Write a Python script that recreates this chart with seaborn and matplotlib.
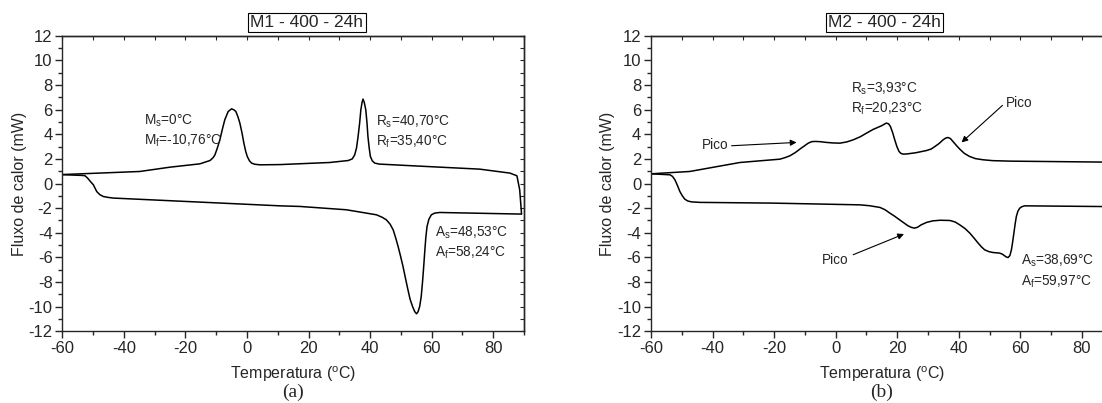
import matplotlib
matplotlib.use("Agg")
import matplotlib.pyplot as plt
from matplotlib.ticker import MultipleLocator
import seaborn as sns
import pandas as pd

# DSC curves: temperature (°C) and heat flow (mW)
m1_cool_T = [-60.0, -34.8, -25.0, -15.3, -12.0, -11.0, -10.4, -9.6, -8.8, -8.0, -7.2, -6.1, -5.0,
             -4.2, -3.6, -2.9, -2.3, -1.6, -1.0, -0.4, 0.1, 0.8, 1.5, 2.5, 4.2, 10.7, 26.9,
             32.9, 34.2, 35.0, 35.6, 36.1, 36.6, 37.0, 37.4, 37.7, 38.1, 38.6, 39.0, 39.3, 39.7,
             40.1, 40.7, 41.5, 43.0, 54.0, 75.6, 85.4, 87.7, 88.6, 89.2]
m1_cool_F = [0.73, 0.98, 1.33, 1.60, 1.87, 2.10, 2.33, 2.90, 3.55, 4.40, 5.18, 5.85, 6.07,
             5.98, 5.85, 5.40, 4.90, 4.10, 3.28, 2.60, 2.20, 1.85, 1.66, 1.57, 1.52, 1.54, 1.71,
             1.87, 2.00, 2.33, 2.90, 3.82, 4.90, 5.99, 6.60, 6.86, 6.60, 5.99, 4.90, 3.82, 2.90,
             2.20, 1.85, 1.66, 1.58, 1.44, 1.17, 0.85, 0.63, -0.51, -2.46]
m1_heat_T = [-60.0, -53.5, -52.6, -51.8, -50.8, -49.9, -48.8, -47.8, -46.7, -45.0, -43.4, 10.7,
             17.2, 32.3, 42.1, 44.0, 45.3, 46.5, 47.5, 48.3, 49.1, 49.9, 50.7, 51.5, 52.3, 53.0,
             53.8, 54.5, 55.1, 55.6, 56.1, 56.6, 57.0, 57.4, 57.8, 58.1, 58.5, 59.1, 59.9, 61.0,
             62.6, 89.2]
m1_heat_F = [0.72, 0.66, 0.63, 0.45, 0.15, -0.10, -0.65, -0.90, -1.05, -1.13, -1.18, -1.81,
             -1.86, -2.13, -2.54, -2.75, -2.95, -3.30, -3.76, -4.40, -5.11, -5.90, -6.74, -7.70, -8.63, -9.40,
             -9.99, -10.40, -10.58, -10.40, -9.99, -9.20, -8.10, -6.80, -5.38, -4.40, -3.49, -2.90, -2.54, -2.40,
             -2.35, -2.48]

m2_cool_T = [-60.0, -47.4, -31.1, -18.1, -16.5, -14.9, -13.2, -11.6, -10.2, -8.9, -7.8, -6.7, -5.0,
             -3.0, -1.0, 1.4, 3.6, 5.7, 8.0, 10.0, 12.2, 13.6, 14.9, 15.8, 16.5, 17.2, 17.8,
             18.5, 19.2, 19.9, 20.6, 21.2, 21.9, 23.0, 26.0, 29.5, 31.0, 32.2, 33.6, 34.9, 35.8,
             36.5, 37.3, 38.1, 39.2, 40.3, 41.8, 43.5, 45.5, 47.9, 51.0, 56.6, 88.0]
m2_cool_F = [0.79, 0.98, 1.71, 1.98, 2.10, 2.25, 2.50, 2.80, 3.05, 3.28, 3.40, 3.42, 3.40,
             3.34, 3.30, 3.28, 3.38, 3.55, 3.80, 4.09, 4.40, 4.55, 4.69, 4.82, 4.91, 4.85, 4.63,
             4.15, 3.55, 3.00, 2.60, 2.45, 2.39, 2.40, 2.50, 2.68, 2.80, 3.00, 3.25, 3.55, 3.70,
             3.74, 3.65, 3.42, 3.10, 2.80, 2.45, 2.20, 2.02, 1.93, 1.86, 1.82, 1.74]
m2_heat_T = [-60.0, -53.8, -53.0, -52.2, -51.4, -50.6, -49.8, -49.0, -48.0, -46.8, -44.0, -20.3,
             7.9, 11.0, 14.4, 16.0, 17.6, 19.2, 20.8, 22.2, 23.5, 24.6, 25.6, 26.6, 27.8, 29.6,
             31.6, 34.0, 37.1, 38.8, 40.3, 42.0, 43.6, 45.0, 46.3, 47.4, 48.4, 49.8, 51.1, 53.3,
             54.2, 54.9, 55.5, 56.0, 56.6, 57.1, 57.5, 57.9, 58.3, 58.7, 59.2, 59.8, 60.5, 61.4, 88.0]
m2_heat_F = [0.79, 0.71, 0.58, 0.30, -0.15, -0.65, -1.00, -1.27, -1.42, -1.49, -1.53, -1.59,
             -1.73, -1.80, -1.94, -2.12, -2.40, -2.66, -2.95, -3.20, -3.43, -3.56, -3.62, -3.55, -3.35, -3.15,
             -3.03, -2.98, -3.00, -3.12, -3.35, -3.65, -4.03, -4.44, -4.84, -5.15, -5.38, -5.53, -5.60, -5.65,
             -5.74, -5.87, -5.97, -6.01, -5.85, -5.38, -4.75, -4.03, -3.30, -2.68, -2.25, -2.00, -1.88, -1.81, -1.87]

titles = ["M1 - 400 - 24h", "M2 - 400 - 24h"]
panel_tags = ["(a)", "(b)"]
x_label = "Temperatura ($^{\\mathrm{o}}$C)"
y_label = "Fluxo de calor (mW)"

m1_notes = [(-33.5, 5.1, "M$_\\mathrm{s}$=0°C"), (-33.5, 3.5, "M$_\\mathrm{f}$=-10,76°C"),
            (41.8, 5.0, "R$_\\mathrm{s}$=40,70°C"), (41.8, 3.4, "R$_\\mathrm{f}$=35,40°C"),
            (61.0, -4.0, "A$_\\mathrm{s}$=48,53°C"), (61.0, -5.6, "A$_\\mathrm{f}$=58,24°C")]
m2_notes = [(5.0, 7.66, "R$_\\mathrm{s}$=3,93°C"), (5.0, 6.03, "R$_\\mathrm{f}$=20,23°C"),
            (60.3, -6.3, "A$_\\mathrm{s}$=38,69°C"), (60.3, -7.95, "A$_\\mathrm{f}$=59,97°C"),
            (-43.6, 3.15, "Pico"), (55.4, 6.55, "Pico"), (-4.6, -6.18, "Pico")]
# arrows: (tail T, tail F, head T, head F)
m2_arrows = [(-33.8, 3.07, -12.7, 3.34), (54.2, 6.35, 40.9, 3.34), (5.7, -5.78, 22.2, -4.10)]

sns.set_style("ticks")
plt.rcParams["font.family"] = ["Liberation Sans", "DejaVu Sans"]
plt.rcParams["mathtext.fontset"] = "custom"
plt.rcParams["mathtext.rm"] = "Liberation Sans"
plt.rcParams["mathtext.it"] = "Liberation Sans:italic"
plt.rcParams["axes.unicode_minus"] = False
plt.rcParams["axes.linewidth"] = 1.0

fig = plt.figure(figsize=(11.02, 4.03), dpi=100)
ax1 = fig.add_axes([0.0565, 0.1779, 0.4190, 0.7333])
ax2 = fig.add_axes([0.5907, 0.1779, 0.4190, 0.7333])

curves = [
    [(m1_cool_T, m1_cool_F), (m1_heat_T, m1_heat_F)],
    [(m2_cool_T, m2_cool_F), (m2_heat_T, m2_heat_F)],
]
title_x = [0.530, 0.505]

for i, ax in enumerate([ax1, ax2]):
    for T, F in curves[i]:
        df = pd.DataFrame({"T": T, "F": F})
        sns.lineplot(data=df, x="T", y="F", ax=ax, color="black", lw=1.1,
                     sort=False, estimator=None)
    ax.set_xlim(-60, 90)
    ax.set_ylim(-12, 12)
    ax.xaxis.set_major_locator(MultipleLocator(20))
    ax.xaxis.set_minor_locator(MultipleLocator(10))
    ax.yaxis.set_major_locator(MultipleLocator(2))
    ax.yaxis.set_minor_locator(MultipleLocator(1))
    ax.tick_params(which="major", direction="out", length=5, width=1, labelsize=12, pad=2)
    ax.tick_params(which="minor", direction="out", length=3, width=1)
    for side in ["top", "right"]:
        ax.spines[side].set_visible(True)
    top = ax.secondary_xaxis("top")
    top.xaxis.set_major_locator(MultipleLocator(10))
    top.tick_params(direction="in", length=3, width=0.8, labeltop=False)
    right = ax.secondary_yaxis("right")
    right.yaxis.set_major_locator(MultipleLocator(1))
    right.tick_params(direction="in", length=3, width=0.8, labelright=False)

    ax.set_xlabel(x_label, fontsize=11.5)
    ax.set_ylabel(y_label, fontsize=11.5)
    ax.xaxis.set_label_coords(0.5, -0.112)
    ax.yaxis.set_label_coords(-0.077, 0.5)
    ax.text(title_x[i], 1.044, titles[i], transform=ax.transAxes, ha="center", va="center",
            fontsize=12.5, bbox=dict(boxstyle="square,pad=0.12", fc="white", ec="black", lw=0.8))
    ax.text(0.5, -0.205, panel_tags[i], transform=ax.transAxes, ha="center", va="center",
            fontsize=14, family="Liberation Serif")

for T, F, s in m1_notes:
    ax1.text(T, F, s, ha="left", va="center", fontsize=9.8)
for T, F, s in m2_notes:
    ax2.text(T, F, s, ha="left", va="center", fontsize=9.8)
for t0, f0, t1, f1 in m2_arrows:
    ax2.annotate("", xy=(t1, f1), xytext=(t0, f0),
                 arrowprops=dict(arrowstyle="-|>", color="black", lw=0.8,
                                 mutation_scale=9, shrinkA=0, shrinkB=0))

fig.savefig("out.png", dpi=100)
